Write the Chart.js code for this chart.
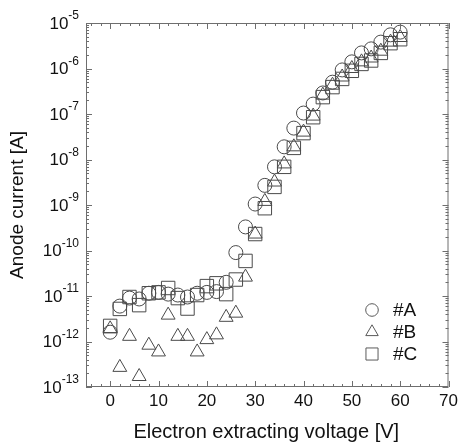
<!DOCTYPE html>
<html>
<head>
<meta charset="utf-8">
<script src="https://cdn.jsdelivr.net/npm/chart.js@4.4.1/dist/chart.umd.min.js"></script>
<style>
html, body { margin: 0; padding: 0; background: #fff; }
</style>
</head>
<body>
<canvas id="chart" width="459" height="446"></canvas>
<script>
// Electron extracting voltage [V]
const voltages = [0, 2, 4, 6, 8, 10, 12, 14, 16, 18, 20, 22, 24, 26, 28, 30,
    32, 34, 36, 38, 40, 42, 44, 46, 48, 50, 52, 54, 56, 58, 60];

// Anode current [A] for each sample
const currentA = [1.6e-12, 6e-12, 9e-12, 8.6e-12, 1.15e-11, 1.2e-11, 1.1e-11, 1.05e-11, 9.5e-12, 1.15e-11,
    1.2e-11, 1.25e-11, 2e-11, 9e-11, 3.3e-10, 1.05e-9, 2.7e-9, 6.9e-9, 1.9e-8, 4.9e-8,
    1.05e-7, 1.65e-7, 2.9e-7, 5e-7, 9.3e-7, 1.4e-6, 2.2e-6, 2.7e-6, 3.8e-6, 5.5e-6, 6.3e-6];
const currentB = [1.9e-12, 2.7e-13, 1.3e-12, 1.7e-13, 8.3e-13, 5.9e-13, 3.8e-12, 1.3e-12, 1.3e-12, 5.9e-13,
    1.1e-12, 1.4e-12, 3.4e-12, 4.2e-12, 2.6e-11, 2.3e-10, 1.2e-9, 3.2e-9, 8e-9, 1.9e-8,
    4e-8, 9e-8, 2.6e-7, 4.3e-7, 6.5e-7, 1e-6, 1.4e-6, 1.7e-6, 2.4e-6, 3.8e-6, 4.8e-6];
const currentC = [2.2e-12, 5.2e-12, 9.5e-12, 6.3e-12, 1.15e-11, 1.2e-11, 1.5e-11, 9e-12, 5.3e-12, 1.05e-11,
    1.65e-11, 1.9e-11, 1.1e-11, 2.3e-11, 5.9e-11, 2.3e-10, 8.5e-10, 2.5e-9, 6.9e-9, 1.8e-8,
    3.8e-8, 8.5e-8, 2.35e-7, 3.9e-7, 5.9e-7, 8.9e-7, 1.26e-6, 1.5e-6, 2.2e-6, 3.6e-6, 4.4e-6];

const seriesLabels = ['#A', '#B', '#C'];
const xTickLabels = [0, 10, 20, 30, 40, 50, 60, 70];
const yTickExponents = [-13, -12, -11, -10, -9, -8, -7, -6, -5];

const MARK = '#4a4a4a';
const AXIS = '#6e6e6e';
const FONT = '"Liberation Sans", Arial, sans-serif';

const toPoints = (values) => voltages.map((v, i) => ({ x: v, y: values[i] }));

const markerSets = [
    { style: 'circle', radius: 7 },
    { style: 'triangle', radius: 8 },
    { style: 'rect', radius: 9.5 }
];

// frame, inward ticks, tick labels, axis titles and the legend
const frameAndLabels = {
    id: 'frameAndLabels',
    afterDraw(chart) {
        const { ctx, chartArea: a, scales: { x, y } } = chart;
        ctx.save();
        ctx.strokeStyle = AXIS;
        ctx.lineWidth = 1;
        ctx.strokeRect(a.left + 0.5, a.top + 0.5, a.right - a.left - 1, a.bottom - a.top - 1);

        ctx.beginPath();
        for (let v = -4; v <= 70; v += 2) {
            const px = Math.round(x.getPixelForValue(v)) + 0.5;
            const len = v % 10 === 0 ? 6 : 3;
            ctx.moveTo(px, a.bottom);
            ctx.lineTo(px, a.bottom - len);
            ctx.moveTo(px, a.top);
            ctx.lineTo(px, a.top + len);
        }
        for (let e = -13; e <= -5; e++) {
            for (let k = 1; k <= 9; k++) {
                if (e === -5 && k > 1) break;
                const py = Math.round(y.getPixelForValue(k * Math.pow(10, e))) + 0.5;
                const len = k === 1 ? 6 : 3;
                ctx.moveTo(a.left, py);
                ctx.lineTo(a.left + len, py);
                ctx.moveTo(a.right, py);
                ctx.lineTo(a.right - len, py);
            }
        }
        ctx.stroke();

        ctx.fillStyle = '#111';
        ctx.textBaseline = 'middle';
        ctx.textAlign = 'center';
        ctx.font = '17px ' + FONT;
        xTickLabels.forEach(v => {
            ctx.fillText(String(v), x.getPixelForValue(v), a.bottom + 14);
        });

        // y labels as 10 with a raised exponent
        ctx.textAlign = 'left';
        yTickExponents.forEach(e => {
            const py = y.getPixelForValue(Math.pow(10, e));
            ctx.font = '17px ' + FONT;
            const base = ctx.measureText('10').width;
            ctx.font = '12px ' + FONT;
            const exp = '-' + Math.abs(e);
            const expW = ctx.measureText(exp).width;
            const left = a.left - 7 - expW - base;
            ctx.font = '17px ' + FONT;
            ctx.fillText('10', left, py + 1);
            ctx.font = '12px ' + FONT;
            ctx.fillText(exp, left + base, py - 7);
        });

        ctx.font = '20px ' + FONT;
        ctx.textAlign = 'center';
        ctx.fillText('Electron extracting voltage [V]', (a.left + a.right) / 2 - 1, 432);
        ctx.font = '19px ' + FONT;
        ctx.save();
        ctx.translate(18, (a.top + a.bottom) / 2);
        ctx.rotate(-Math.PI / 2);
        ctx.fillText('Anode current [A]', 0, 0);
        ctx.restore();

        // legend
        ctx.textAlign = 'left';
        seriesLabels.forEach((label, i) => {
            const cy = 310 + i * 22;
            ctx.strokeStyle = '#5a5a5a';
            ctx.fillStyle = 'rgba(0,0,0,0)';
            Chart.helpers.drawPoint(ctx, {
                pointStyle: markerSets[i].style,
                radius: markerSets[i].radius * 0.9,
                borderWidth: 1
            }, 372, cy);
            ctx.fillStyle = '#111';
            ctx.font = '19px ' + FONT;
            ctx.fillText(label, 393, cy + 1);
        });
        ctx.restore();
    }
};

const datasets = [currentA, currentB, currentC].map((values, i) => ({
    label: seriesLabels[i],
    data: toPoints(values),
    showLine: false,
    pointStyle: markerSets[i].style,
    pointRadius: markerSets[i].radius,
    pointBackgroundColor: 'rgba(0,0,0,0)',
    pointBorderColor: MARK,
    pointBorderWidth: 1
}));

const ctx = document.getElementById('chart').getContext('2d');
new Chart(ctx, {
    type: 'scatter',
    data: { datasets },
    options: {
        responsive: false,
        animation: false,
        layout: { padding: { left: 86, right: 9, top: 23, bottom: 59 } },
        plugins: {
            legend: { display: false },
            tooltip: { enabled: false }
        },
        scales: {
            x: { type: 'linear', min: -5, max: 70, display: false },
            y: { type: 'logarithmic', min: 1e-13, max: 1e-5, display: false }
        }
    },
    plugins: [frameAndLabels]
});
</script>
</body>
</html>
